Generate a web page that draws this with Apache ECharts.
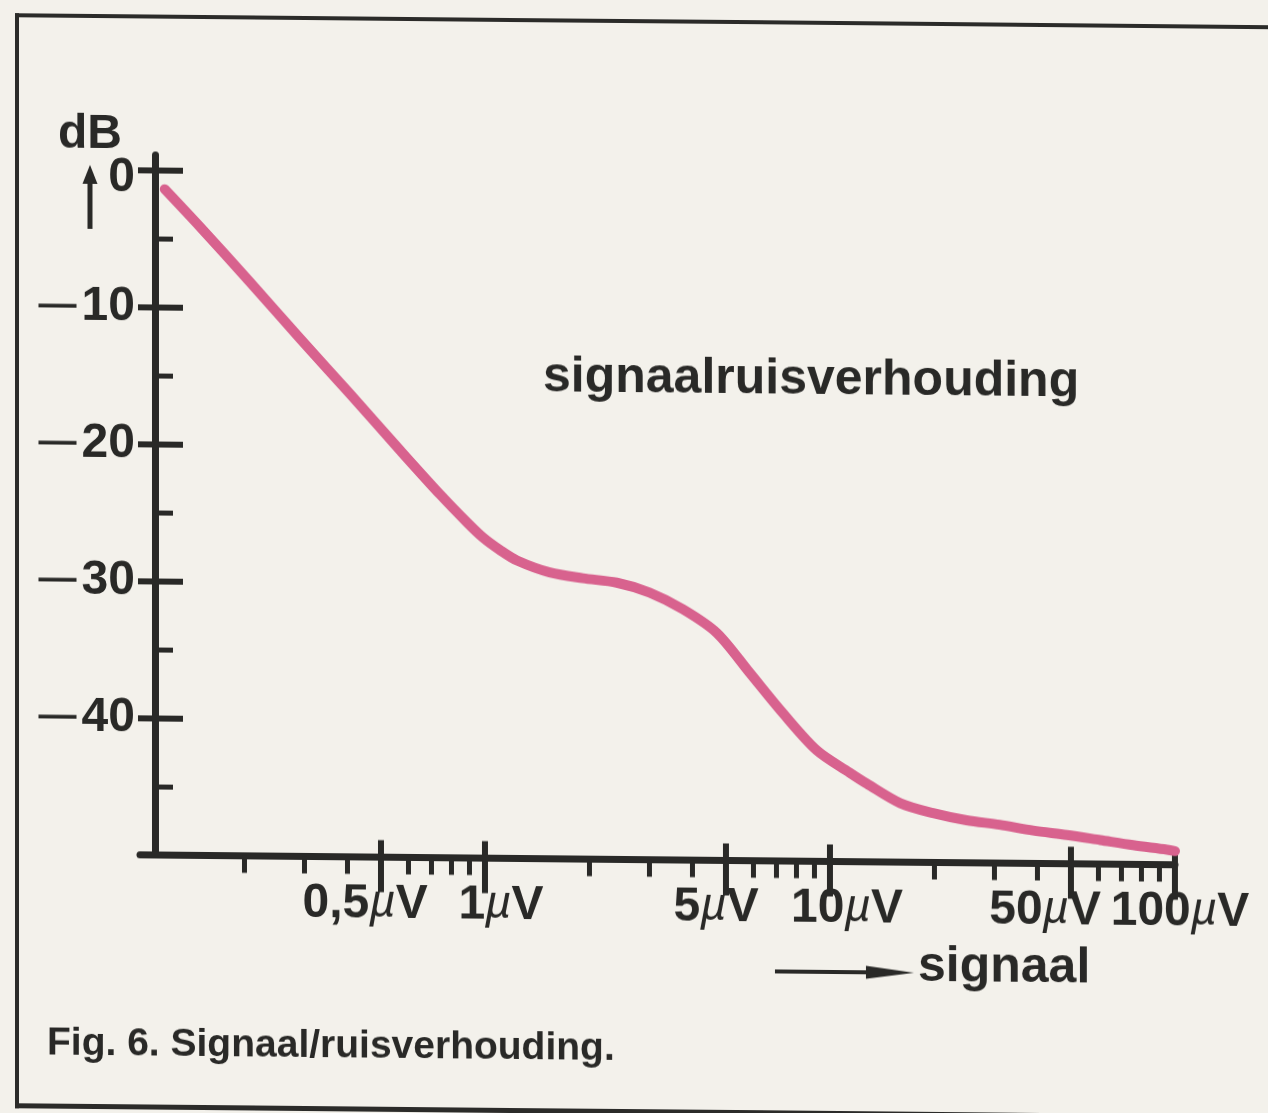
<!DOCTYPE html>
<html>
<head>
<meta charset="utf-8">
<script src="https://cdn.jsdelivr.net/npm/echarts@6/dist/echarts.min.js"></script>
<style>
  html, body { margin: 0; padding: 0; background: #f3f1eb; overflow: hidden; }
  #sheet { position: absolute; left: 0; top: 0; width: 1268px; height: 1113px;
           transform: skewY(0.55deg); transform-origin: 0 0; }
  #frame { position: absolute; left: 15px; top: 13px; width: 1300px; height: 1086px;
           border-left: 4px solid #2b2b29; border-top: 4px solid #2b2b29; border-bottom: 5px solid #2b2b29; }
  #chart { position: absolute; left: 0; top: 0; width: 1268px; height: 1113px; }
</style>
</head>
<body>
<div id="sheet">
  <div id="frame"></div>
  <div id="chart"></div>
</div>
<script>
// Signal level at the input (µV) and the resulting signal/noise ratio (dB)
const signalUV = [0.118, 0.149, 0.208, 0.291, 0.406, 0.568, 0.742, 0.887, 0.987, 1.105, 1.238, 1.54, 1.92, 2.41, 3.0, 3.75, 4.7,
                  5.86, 7.3, 9.16, 11.4, 12.8, 16, 19.9, 24.9, 31, 38.8, 48.6, 60.7, 75.6, 94.8, 100];
const ratioDB  = [-1.4, -4.1, -8.1, -12.2, -16.2, -20.3, -23.5, -25.5, -26.6, -27.5, -28.25, -29.1, -29.5, -29.8, -30.5, -31.7, -33.4,
                  -36.3, -39.2, -41.9, -43.5, -44.3, -45.7, -46.4, -46.9, -47.2, -47.6, -47.9, -48.25, -48.6, -48.9, -49.0];

// Axis ticks and their labels
const yMajorTicks  = [-40, -30, -20, -10, 0];
const yMajorLabels = ['—40', '—30', '—20', '—10', '0'];
const yMinorTicks  = [-45, -35, -25, -15, -5];
const xMajorTicks  = [0.5, 1, 5, 10, 50, 100];
const xMajorLabels = ['0,5µV', '1µV', '5µV', '10µV', '50µV', '100µV'];
const xMinorTicks  = [0.2, 0.3, 0.4, 0.6, 0.7, 0.8, 0.9, 2, 3, 4, 6, 7, 8, 9, 20, 30, 40, 60, 70, 80, 90];

const INK = '#292927';
const PINK = '#d8628e';
const FONT = "'Liberation Sans', Arial, Helvetica, sans-serif";

// horizontal nudges (px) for the hand-set x labels
const xLabelNudge = [-16, 16, -10, 17, -26, 5];

// labels sit very close together, so alternate labels are carried by two axes
const xTicksA = xMajorTicks.filter((_, i) => i % 2 === 0);
const xTicksB = xMajorTicks.filter((_, i) => i % 2 === 1);

function findIndex(list, v) {
  for (let i = 0; i < list.length; i++) {
    if (Math.abs(list[i] - v) <= 1e-6 * Math.max(1, Math.abs(list[i]))) return i;
  }
  return -1;
}

const xRich = {
  n: { fontFamily: FONT, fontWeight: 'bold', fontSize: 48, color: INK, lineHeight: 52 },
  u: { fontFamily: FONT, fontStyle: 'italic', fontWeight: 'normal', fontSize: 46, color: INK, lineHeight: 52 }
};
xLabelNudge.forEach(d => {
  const w = Math.abs(d) * 2;
  xRich['s' + w] = { width: w, fontSize: 10, lineHeight: 52 };
});

function xLabel(v) {
  const i = findIndex(xMajorTicks, v);
  if (i < 0) return '';
  const m = xMajorLabels[i].match(/^([\d,]+)(µ)(V)$/);
  const body = '{n|' + m[1] + '}{u|' + m[2] + '}{n|' + m[3] + '}';
  const d = xLabelNudge[i];
  const sp = '{s' + Math.abs(d) * 2 + '| }';
  return d > 0 ? sp + body : (d < 0 ? body + sp : body);
}

const yRich = {
  d: { fontFamily: FONT, fontWeight: 'bold', fontSize: 38, color: INK, padding: [0, 5, 0, 0] },
  n: { fontFamily: FONT, fontWeight: 'bold', fontSize: 48, color: INK },
  z: { fontFamily: FONT, fontWeight: 'bold', fontSize: 48, color: INK, padding: [16, 0, 0, 0] }
};
function yLabel(v) {
  const i = findIndex(yMajorTicks, v);
  if (i < 0) return '';
  const s = yMajorLabels[i];
  if (s.charAt(0) === '—') return '{d|—}{n|' + s.slice(1) + '}';
  return '{z|' + s + '}';
}

const logRange = { type: 'log', logBase: 10, min: 0.1, max: 100, position: 'bottom', gridIndex: 0,
                   splitLine: { show: false }, minorTick: { show: false }, minorSplitLine: { show: false } };
const dbRange = { type: 'value', min: -50, max: 1.1, position: 'left', offset: -15, gridIndex: 0,
                  splitLine: { show: false }, minorTick: { show: false } };

function labelledX(ticks, withLine) {
  return Object.assign({}, logRange, {
    axisLine: { show: withLine, onZero: false, lineStyle: { color: INK, width: 7 } },
    axisTick: { show: true, inside: false, length: 35, customValues: ticks, lineStyle: { color: INK, width: 6 } },
    axisLabel: { show: true, customValues: ticks, margin: 21, showMinLabel: true, showMaxLabel: true,
                 hideOverlap: false, formatter: xLabel, rich: xRich }
  });
}

const chart = echarts.init(document.getElementById('chart'), null, { renderer: 'canvas' });
chart.setOption({
  animation: false,
  backgroundColor: 'transparent',
  title: {
    text: 'Fig. 6. Signaal/ruisverhouding.',
    left: 47, top: 1024, padding: 0,
    textStyle: { fontFamily: FONT, fontWeight: 'bold', fontSize: 39, color: INK }
  },
  grid: { left: 140, right: 93, top: 153.4, bottom: 259.5, containLabel: false },
  xAxis: [
    labelledX(xTicksA, true),
    labelledX(xTicksB, false),
    Object.assign({}, logRange, {
      axisLine: { show: false, onZero: false },
      axisTick: { show: true, inside: true, length: 17, customValues: xMajorTicks, lineStyle: { color: INK, width: 6 } },
      axisLabel: { show: false }
    }),
    Object.assign({}, logRange, {
      axisLine: { show: false, onZero: false },
      axisTick: { show: true, inside: false, length: 17, customValues: xMinorTicks, lineStyle: { color: INK, width: 5 } },
      axisLabel: { show: false }
    })
  ],
  yAxis: [
    Object.assign({}, dbRange, {
      name: 'dB', nameLocation: 'end', nameGap: 20, nameMoveOverlap: false,
      nameTextStyle: { fontFamily: FONT, fontWeight: 'bold', fontSize: 48, color: INK,
                       align: 'right', verticalAlign: 'middle', padding: [0, 33, 0, 0] },
      axisLine: { show: true, onZero: false, lineStyle: { color: INK, width: 7 } },
      axisTick: { show: true, inside: false, length: 17, customValues: yMajorTicks, lineStyle: { color: INK, width: 6 } },
      axisLabel: { show: true, customValues: yMajorTicks, margin: 20, showMinLabel: true, showMaxLabel: true,
                   formatter: yLabel, rich: yRich }
    }),
    Object.assign({}, dbRange, {
      axisLine: { show: false, onZero: false },
      axisTick: { show: true, inside: true, length: 28, customValues: yMajorTicks, lineStyle: { color: INK, width: 6 } },
      axisLabel: { show: false }
    }),
    Object.assign({}, dbRange, {
      axisLine: { show: false, onZero: false },
      axisTick: { show: true, inside: true, length: 18, customValues: yMinorTicks, lineStyle: { color: INK, width: 5 } },
      axisLabel: { show: false }
    })
  ],
  graphic: [
    // arrow pointing up under "dB"
    { type: 'line', shape: { x1: 90, y1: 228, x2: 90, y2: 178 }, style: { stroke: INK, lineWidth: 5 } },
    { type: 'polygon', shape: { points: [[82.5, 183], [97.5, 183], [90, 164]] }, style: { fill: INK } },
    // curve caption inside the plot
    { type: 'text', x: 543, y: 372,
      style: { text: 'signaalruisverhouding', fontFamily: FONT, fontWeight: 'bold', fontSize: 50, fill: INK,
               align: 'left', verticalAlign: 'middle' } },
    // "signaal" with its arrow
    { type: 'line', shape: { x1: 775, y1: 964, x2: 880, y2: 964 }, style: { stroke: INK, lineWidth: 4 } },
    { type: 'polygon', shape: { points: [[866, 957.5], [866, 970.5], [914, 964]] }, style: { fill: INK } },
    { type: 'text', x: 918, y: 958,
      style: { text: 'signaal', fontFamily: FONT, fontWeight: 'bold', fontSize: 50, fill: INK,
               align: 'left', verticalAlign: 'middle' } }
  ],
  series: [{
    type: 'line',
    xAxisIndex: 0, yAxisIndex: 0,
    data: signalUV.map((v, i) => [v, ratioDB[i]]),
    smooth: 0.3,
    symbol: 'none',
    lineStyle: { color: PINK, width: 10, cap: 'round', join: 'round' },
    z: 1
  }]
});
</script>
</body>
</html>
